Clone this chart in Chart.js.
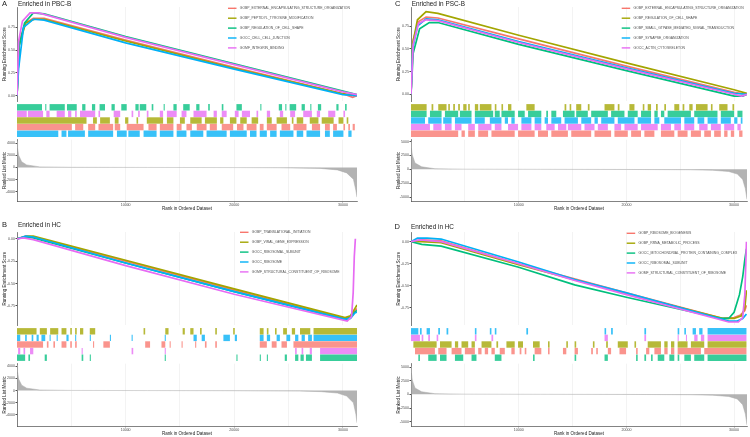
<!DOCTYPE html>
<html>
<head>
<meta charset="utf-8">
<script src="https://cdn.jsdelivr.net/npm/chart.js@4.4.1/dist/chart.umd.min.js"></script>
<style>
body{margin:0;background:#fff;width:750px;height:437px;overflow:hidden;position:relative}
canvas{position:absolute}
</style>
</head>
<body>
<script>
// ggplot hue colours, one per gene set (legend order)
var setColors = ['#F8766D','#A3A500','#00BF7D','#00B0F6','#E76BF3'];
var hitColors = ['rgba(248,118,109,0.78)','rgba(163,165,0,0.78)','rgba(0,191,125,0.78)','rgba(0,176,246,0.78)','rgba(231,107,243,0.78)'];

// tick positions
var rankGrid = [0,5000,10000,15000,20000,25000,30000];
var rankLabels = [10000,20000,30000];
var esTicksUp = [0,0.25,0.5,0.75];
var esTicksDown = [-0.75,-0.5,-0.25,0];
var metricTicksAB = [-4000,-2000,0,2000,4000];
var metricTicksCD = [-5000,-2500,0,2500,5000];

//================ A : Enriched in PBC-B ================
var namesA = ['GOBP_EXTERNAL_ENCAPSULATING_STRUCTURE_ORGANIZATION','GOBP_PEPTIDYL_TYROSINE_MODIFICATION','GOBP_REGULATION_OF_CELL_SHAPE','GOCC_CELL_CELL_JUNCTION','GOMF_INTEGRIN_BINDING'];
// running enrichment score, [rank, ES]
var esA0 = [[0,0],[200,0.6],[800,0.8],[1500,0.85],[2500,0.85],[10000,0.61],[20000,0.31],[30000,0.02],[30900,-0.02],[31300,0]];
var esA1 = [[0,0],[200,0.55],[800,0.8],[1600,0.84],[2500,0.84],[10000,0.6],[20000,0.3],[30000,0.02],[31300,0]];
var esA2 = [[0,0],[200,0.55],[700,0.8],[1500,0.91],[2500,0.9],[10000,0.65],[20000,0.35],[30000,0.05],[31300,0.01]];
var esA3 = [[0,0],[150,0.3],[600,0.75],[1500,0.84],[2500,0.83],[10000,0.58],[20000,0.29],[30000,0.01],[31300,0]];
var esA4 = [[0,0],[150,0.6],[500,0.82],[1200,0.91],[2000,0.91],[10000,0.64],[20000,0.34],[30000,0.04],[31300,0.01]];
// gene hits, runs of [from, to] rank
var hitsA0 = [[0,5050],[5350,6100],[6550,7200],[7500,8850],[9000,9500],[10100,11650],[12100,12850],[13150,14400],[14700,15150],[15600,16100],[16550,17450],[17750,18400],[18850,19900],[20250,20850],[21150,22050],[22350,22700],[23000,23900],[24350,25150],[25450,26650],[27150,27900],[28350,28800],[29100,29450],[30050,30200],[30500,30650],[30900,31100]];
var hitsA1 = [[0,6400],[7000,7350],[7650,8550],[9000,9350],[9950,10250],[11000,11150],[11950,13450],[13800,14400],[15000,15450],[15950,17000],[17300,18400],[18700,19000],[19600,20200],[20550,21150],[21600,22200],[23000,23450],[23900,24850],[25300,25450],[25750,26350],[26950,27750],[28050,29150],[29600,30050],[30350,30500]];
var hitsA2 = [[0,2300],[2600,2700],[3000,4400],[4600,5500],[6000,6300],[6900,7200],[7600,8100],[8700,9000],[9600,10100],[10900,11200],[11300,11900],[12400,12550],[13500,13600],[14400,14700],[15300,15900],[16500,16800],[17600,17750],[18850,19000],[20200,20700],[22400,22500],[24100,24400],[24700,24800],[25100,25700],[26200,26500],[27000,27100],[27700,28000],[29400,29600],[30200,30350]];
var hitsA3 = [[0,3800],[4100,4550],[4700,6250],[6550,8850],[9200,10100],[10250,11300],[11650,12850],[13150,14400],[14700,15600],[15950,17150],[17450,19300],[19600,21150],[21450,22050],[22350,23000],[23300,23900],[24200,25450],[25750,26350],[26650,27900],[28350,28800],[29100,30050],[30500,30800]];
var hitsA4 = [[0,900],[1000,2400],[2700,3000],[3650,4400],[4700,5000],[5350,5500],[5800,7200],[7500,7650],[8900,9500],[10550,10700],[11150,11300],[11950,12100],[13150,13450],[13800,14700],[15150,15600],[16250,17450],[18100,18400],[18850,19300],[20050,20400],[20700,21450],[22050,22200],[23000,23300],[24200,24500],[25150,25600],[26350,27150],[27600,27900],[28650,29300],[30050,30200]];
var rowsA = [2,4,1,0,3]; // barcode rows, top to bottom
var rankA = [[0,4300],[50,3200],[150,2000],[430,950],[890,420],[2100,100],[5000,30],[12000,5],[20000,-15],[24000,-40],[27900,-150],[29500,-400],[30350,-900],[30970,-1950],[31200,-3800],[31300,-4900]];

//================ B : Enriched in HC ================
var namesB = ['GOBP_TRANSLATIONAL_INITIATION','GOBP_VIRAL_GENE_EXPRESSION','GOCC_RIBOSOMAL_SUBUNIT','GOCC_RIBOSOME','GOMF_STRUCTURAL_CONSTITUENT_OF_RIBOSOME'];
var esB0 = [[0,0],[800,0.03],[1500,0.02],[10000,-0.25],[20000,-0.57],[30200,-0.89],[30700,-0.87],[31100,-0.8],[31300,-0.78]];
var esB1 = [[0,0],[900,0.03],[1500,0.03],[10000,-0.24],[20000,-0.56],[30200,-0.88],[30700,-0.86],[31100,-0.78],[31300,-0.74]];
var esB2 = [[0,0],[800,0.02],[1500,0.01],[10000,-0.27],[20000,-0.59],[30200,-0.9],[30700,-0.88],[31100,-0.82],[31300,-0.8]];
var esB3 = [[0,0],[800,0.03],[1500,0.02],[10000,-0.27],[20000,-0.59],[30200,-0.9],[30700,-0.89],[31100,-0.83],[31300,-0.82]];
var esB4 = [[0,0],[600,0.01],[1500,-0.01],[10000,-0.3],[20000,-0.62],[30400,-0.92],[30800,-0.87],[30950,-0.6],[31050,-0.2],[31150,0]];
var hitsB0 = [[0,2400],[2750,2900],[3350,3500],[4100,4550],[4900,5050],[5350,5500],[7000,7100],[7950,8550],[11800,12250],[13300,13650],[14050,14150],[15150,15250],[16400,16500],[17300,17450],[18250,18400],[22350,23000],[23450,23900],[24350,24850],[25450,31300]];
var hitsB1 = [[0,1800],[2100,2750],[3050,3800],[4100,4550],[4900,5050],[5350,5500],[5800,6100],[6700,7200],[11650,11800],[13650,13950],[15250,15450],[15950,16250],[16850,17000],[18250,18400],[19900,20050],[22350,22700],[23000,23150],[23750,23900],[24500,24850],[25300,25600],[26050,27000],[27300,31300]];
var hitsB2 = [[0,750],[1050,1200],[2550,2750],[5950,6100],[6700,6800],[13600,13700],[20200,20300],[22350,22450],[23000,23100],[24650,24850],[25600,25900],[26100,26400],[26600,27150],[27900,31300]];
var hitsB3 = [[0,300],[750,900],[1350,1500],[1800,2000],[2250,2600],[3000,3100],[3650,3750],[4550,4750],[5350,5450],[6700,6800],[8550,8650],[10550,10650],[13600,13700],[16250,16550],[17000,17300],[19000,19600],[20050,20250],[22350,22700],[23000,23300],[23900,24200],[24800,25150],[25600,25900],[26200,26500],[26800,27150],[27300,31300]];
var hitsB4 = [[100,300],[600,750],[1200,1500],[5950,6050],[10550,10700],[13600,13700],[25600,25750],[26200,26350],[26950,27150],[27900,31300]];
var rowsB = [1,3,0,4,2];
var rankB = [[0,4200],[50,3100],[150,1900],[430,900],[900,400],[2100,100],[5000,30],[12000,5],[20000,-20],[26000,-80],[28000,-170],[29500,-400],[30350,-900],[30970,-2000],[31200,-3900],[31300,-5300]];

//================ C : Enriched in PSC-B ================
var namesC = ['GOBP_EXTERNAL_ENCAPSULATING_STRUCTURE_ORGANIZATION','GOBP_REGULATION_OF_CELL_SHAPE','GOBP_SMALL_GTPASE_MEDIATED_SIGNAL_TRANSDUCTION','GOBP_SYNAPSE_ORGANIZATION','GOCC_ACTIN_CYTOSKELETON'];
var esC0 = [[0,0],[200,0.6],[700,0.8],[1400,0.85],[2500,0.84],[10000,0.61],[20000,0.31],[30000,0.02],[31200,0]];
var esC1 = [[0,0],[150,0.55],[600,0.82],[1400,0.91],[2500,0.89],[10000,0.65],[20000,0.345],[30000,0.05],[31200,0.01]];
var esC2 = [[0,0],[200,0.45],[800,0.72],[1700,0.79],[2500,0.79],[10000,0.55],[20000,0.26],[30000,-0.02],[30800,-0.02],[31200,0]];
var esC3 = [[0,0],[150,0.5],[600,0.75],[1400,0.83],[2500,0.82],[10000,0.58],[20000,0.29],[30000,0.01],[31200,0]];
var esC4 = [[0,0],[200,0.55],[700,0.78],[1400,0.82],[2500,0.81],[10000,0.57],[20000,0.28],[30000,0],[30700,-0.02],[31200,0]];
var hitsC0 = [[0,4380],[4690,5000],[5310,5930],[6240,7160],[7470,9630],[9940,11480],[11790,12720],[13030,14570],[14880,16730],[17040,18580],[18890,20130],[20440,21360],[21670,22600],[23210,24450],[24760,25680],[25990,26920],[27230,27850],[28150,28770],[29080,29390],[29700,30010],[30470,30780]];
var hitsC1 = [[0,1450],[1910,2070],[2530,3300],[3460,3610],[3920,4080],[4380,4540],[4850,5160],[5310,5460],[5930,6240],[6390,7470],[7780,7930],[8400,8550],[9010,9320],[10710,11480],[14260,14420],[14730,14880],[15340,15810],[16420,16580],[17970,18890],[19200,19360],[20280,20750],[21520,21670],[21980,22290],[22750,22910],[23520,23680],[24450,24910],[25220,25380],[25840,26150],[26460,27540],[27850,28000],[28620,29390],[29850,30010]];
var hitsC2 = [[0,1450],[1760,2840],[3150,4380],[4540,5620],[5930,7630],[7780,8240],[8400,9630],[9940,10560],[10870,12100],[12560,12720],[13030,13490],[14110,15190],[15340,16420],[16730,18280],[18580,19820],[20130,21050],[21360,22290],[22600,22910],[23210,23520],[23830,25990],[26300,28460],[28770,30010],[30310,30780]];
var hitsC3 = [[0,1300],[1600,2840],[2990,3770],[4080,5620],[5930,6850],[7320,8400],[8710,9010],[9320,9630],[10250,11180],[11480,12100],[12410,12720],[13030,13950],[14260,15500],[15810,16730],[17040,17350],[17660,18890],[19200,20750],[21050,22290],[22600,23060],[23520,25070],[25380,26300],[26610,27230],[27540,28460],[28770,29700],[30010,30310],[30620,30780]];
var hitsC4 = [[0,1760],[2070,2840],[3150,3770],[4080,4690],[5310,5930],[6240,7470],[7780,8400],[9010,9940],[10250,11180],[11480,12100],[12560,13340],[13650,14420],[14570,15810],[16110,17040],[17350,18280],[18890,19510],[19820,21050],[21360,22910],[23210,24140],[24450,25070],[25380,26300],[26760,27540],[27850,28770],[29080,30010],[30310,30620]];
var rowsC = [1,2,3,4,0];
var rankC = [[0,5000],[40,3800],[120,2580],[370,1150],[990,460],[2220,115],[5000,30],[12000,5],[20000,-15],[26000,-70],[28000,-160],[29500,-380],[30300,-850],[30800,-1800],[31050,-3500],[31200,-5400]];

//================ D : Enriched in HC ================
var namesD = ['GOBP_RIBOSOME_BIOGENESIS','GOBP_RRNA_METABOLIC_PROCESS','GOCC_MITOCHONDRIAL_PROTEIN_CONTAINING_COMPLEX','GOCC_RIBOSOMAL_SUBUNIT','GOMF_STRUCTURAL_CONSTITUENT_OF_RIBOSOME'];
var esD0 = [[0,0],[1000,0.02],[2800,0.01],[10000,-0.25],[20000,-0.58],[29000,-0.87],[30000,-0.86],[30600,-0.83],[31000,-0.78],[31150,-0.72]];
var esD1 = [[0,0],[1000,0],[2800,-0.01],[10000,-0.26],[20000,-0.59],[29000,-0.87],[30000,-0.87],[30700,-0.84],[31000,-0.75],[31150,-0.55]];
var esD2 = [[0,0],[1000,-0.03],[2800,-0.05],[10000,-0.29],[15200,-0.49],[20000,-0.63],[28800,-0.87],[29500,-0.87],[30000,-0.8],[30500,-0.6],[30800,-0.4],[31000,-0.2],[31150,-0.08]];
var esD3 = [[0,0],[600,0.04],[1500,0.04],[2800,0.03],[10000,-0.23],[15200,-0.43],[20000,-0.58],[29500,-0.9],[30300,-0.9],[30800,-0.87],[31150,-0.82]];
var esD4 = [[0,0],[800,0.02],[2800,0],[10000,-0.25],[15200,-0.44],[20000,-0.6],[29500,-0.91],[30400,-0.91],[30800,-0.86],[31000,-0.6],[31100,-0.2],[31150,0]];
var hitsD0 = [[370,2220],[2530,3300],[3770,4690],[5000,5930],[6240,6550],[6850,7160],[7470,7780],[8240,8710],[9320,9630],[10090,10250],[10560,10710],[11480,12100],[12720,12870],[14110,14420],[15190,15500],[16730,16890],[17200,17350],[18280,18580],[19360,19970],[20900,21050],[21830,22130],[22600,23210],[23520,23830],[24140,24450],[24760,26920],[27230,31150]];
var hitsD1 = [[220,2380],[2690,3770],[4080,4380],[4690,5310],[5620,5930],[6550,7470],[7930,8090],[8860,9630],[9940,10400],[11330,11950],[12720,12870],[14420,14570],[15190,15340],[16890,17040],[18120,18280],[19200,20130],[20750,20900],[21980,23210],[23520,23830],[24140,24450],[24760,25680],[25990,27230],[27540,31150]];
var hitsD2 = [[680,830],[1600,2380],[2690,3300],[4080,4850],[5620,6080],[7780,8400],[11330,11480],[15190,15340],[17970,18280],[20900,21050],[21670,21830],[22290,22440],[22910,23520],[23990,24450],[24760,24910],[25380,25990],[26300,27230],[27540,31150]];
var hitsD3 = [[0,680],[830,990],[1450,1760],[2530,2690],[3300,3460],[5930,6080],[7320,7470],[7780,7930],[10710,10870],[17970,18120],[18580,18740],[21670,21830],[24760,24910],[25380,25530],[26150,26460],[26760,27070],[27540,31150]];
var hitsD4 = [[0,830],[990,1140],[1600,1760],[2380,2530],[5930,6080],[7470,7630],[17970,18280],[21670,21830],[24760,24860],[25530,25630],[26300,26610],[26920,27230],[27540,31150]];
var rowsD = [3,4,1,0,2];
var rankD = [[0,5100],[40,3900],[120,2600],[370,1170],[990,470],[2220,120],[5000,30],[12000,5],[20000,-15],[26000,-70],[28000,-160],[29500,-380],[30300,-850],[30800,-1900],[31050,-3600],[31200,-5600]];

Chart.defaults.font.family = '"Liberation Sans", Arial, sans-serif';
Chart.defaults.color = '#4d4d4d';

function addCanvas(left, top, w, h){
    var c = document.createElement('canvas');
    c.width = w; c.height = h;
    c.style.left = left+'px'; c.style.top = top+'px';
    c.style.width = w+'px'; c.style.height = h+'px';
    document.body.appendChild(c);
    return c;
}
function toXY(pts){
    return pts.map(function(a){ return {x:a[0], y:a[1]}; });
}
//fixed tick list (stepSize gets rounded away when min/max are set)
function fixTicks(list){
    return function(s){ s.ticks = list.map(function(v){ return {value:v}; }); };
}
var gridCol = '#ebebeb', axisCol = '#4d4d4d';

//letter, title and legend drawn over the ES panel
function decoPlugin(p){
    return {
        id:'deco'+p.letter,
        afterDraw:function(chart){
            var ctx = chart.ctx;
            ctx.save();
            ctx.textBaseline = 'middle';
            ctx.textAlign = 'left';
            ctx.fillStyle = '#1a1a1a';
            ctx.font = '7.5px "Liberation Sans"';
            ctx.fillText(p.letter, p.letterX, p.titleY);
            ctx.font = '6.4px "Liberation Sans"';
            ctx.fillText(p.title, p.titleX, p.titleY);
            p.names.forEach(function(n,i){
                var y = p.legY + i*9.9;
                ctx.strokeStyle = setColors[i];
                ctx.lineWidth = 1.4;
                ctx.beginPath(); ctx.moveTo(p.legX, y); ctx.lineTo(p.legX+8.5, y); ctx.stroke();
                ctx.fillStyle = '#4d4d4d';
                ctx.font = '3.4px "Liberation Sans"';
                ctx.fillText(n, p.legX+11.8, y);
            });
            ctx.restore();
        }
    };
}

function buildPanel(p){
    var base = {responsive:false, animation:false, events:[], devicePixelRatio:1};
    //1. running enrichment score
    var c1 = addCanvas(p.left, p.esTop, p.width, p.esH);
    new Chart(c1, {
        type:'line',
        data:{datasets: p.es.map(function(pts,i){
            return {label:p.names[i], data:toXY(pts), borderColor:setColors[i], borderWidth:1.7,
                    pointRadius:0, tension:0, fill:false, order:4-i};
        })},
        options:Object.assign({}, base, {
            layout:{padding:{top:p.esPadTop, right:p.padR, left:0, bottom:0}},
            plugins:{legend:{display:false}, tooltip:{enabled:false}},
            scales:{
                x:{type:'linear', min:0, max:p.xMax, ticks:{display:false},
                   afterBuildTicks:fixTicks(rankGrid),
                   grid:{color:gridCol, lineWidth:0.6, drawTicks:false}, border:{display:false},
                   afterFit:function(s){ s.height = 0; }},
                y:{min:p.esMin, max:p.esMax,
                   afterBuildTicks:fixTicks(p.esTicks),
                   ticks:{font:{size:3.6}, padding:0.5,
                          callback:function(v){ return v.toFixed(2); }},
                   grid:{drawOnChartArea:false, tickLength:1.5, tickColor:axisCol},
                   border:{color:axisCol, width:0.7},
                   title:{display:true, text:'Running Enrichment Score', font:{size:4.5}, color:'#222', padding:{top:2.3, bottom:0}},
                   afterFit:function(s){ s.width = 17; }}
            }
        }),
        plugins:[decoPlugin(p)]
    });
    //2. gene hit barcode
    var c2 = addCanvas(p.left, p.hitTop, p.width, p.hitH);
    new Chart(c2, {
        type:'bar',
        data:{labels:p.rows.map(function(i){ return p.names[i]; }),
              datasets:p.hits.map(function(runs,i){
                  return {data:runs.map(function(r){ return {x:r, y:p.names[i]}; }),
                          backgroundColor:hitColors[i], borderWidth:0, grouped:false,
                          barPercentage:0.97, categoryPercentage:1};
              })},
        options:Object.assign({}, base, {
            indexAxis:'y',
            layout:{padding:{left:17, right:p.padR, top:0, bottom:0}},
            plugins:{legend:{display:false}, tooltip:{enabled:false}},
            scales:{
                x:{type:'linear', min:0, max:p.xMax, display:false},
                y:{type:'category', display:false}
            }
        })
    });
    //3. ranked list metric
    var c3 = addCanvas(p.left, p.rankTop, p.width, p.rankH);
    new Chart(c3, {
        type:'line',
        data:{datasets:[{data:toXY(p.rank), borderColor:'#a8a8a8', borderWidth:0.5,
                         backgroundColor:'rgba(160,160,160,0.8)', fill:'origin', pointRadius:0, tension:0}]},
        options:Object.assign({}, base, {
            layout:{padding:{top:0, right:p.padR, left:0, bottom:0}},
            plugins:{legend:{display:false}, tooltip:{enabled:false}},
            scales:{
                x:{type:'linear', min:0, max:p.xMax,
                   afterBuildTicks:fixTicks(rankGrid),
                   ticks:{autoSkip:false, maxRotation:0, font:{size:3.6}, padding:0.5,
                          callback:function(v){ return rankLabels.indexOf(v) >= 0 ? String(v) : ''; }},
                   grid:{color:gridCol, lineWidth:0.6, tickLength:1.5,
                         tickColor:function(ctx){ return (ctx.tick && rankLabels.indexOf(ctx.tick.value) >= 0) ? axisCol : 'rgba(0,0,0,0)'; }},
                   border:{color:axisCol, width:0.7},
                   title:{display:true, text:'Rank in Ordered Dataset', font:{size:4.5}, color:'#222', padding:{top:0, bottom:p.xTitlePad}},
                   afterFit:function(s){ s.height = p.rankAxisH; }},
                y:{min:p.rankMin, max:p.rankMax,
                   afterBuildTicks:fixTicks(p.metricTicks),
                   ticks:{font:{size:3.6}, padding:0.5,
                          callback:function(v){ return String(v); }},
                   grid:{drawOnChartArea:false, tickLength:1.5, tickColor:axisCol},
                   border:{color:axisCol, width:0.7},
                   title:{display:true, text:'Ranked List Metric', font:{size:4.5}, color:'#222', padding:{top:2.3, bottom:0}},
                   afterFit:function(s){ s.width = 17; }}
            }
        })
    });
}

buildPanel({left:0, width:375, padR:18, xMax:31300,
    esTop:0, esH:104, esPadTop:7, esMin:-0.064, esMax:0.975, esTicks:esTicksUp,
    hitTop:104, hitH:33, rankTop:137, rankH:78, rankAxisH:14, xTitlePad:3.3,
    rankMin:-5530, rankMax:4590, metricTicks:metricTicksAB,
    letter:'A', title:'Enriched in PBC-B', letterX:2, titleX:18, titleY:4, legX:228, legY:8.3,
    names:namesA, es:[esA0,esA1,esA2,esA3,esA4], hits:[hitsA0,hitsA1,hitsA2,hitsA3,hitsA4], rows:rowsA, rank:rankA});

buildPanel({left:0, width:375, padR:18, xMax:31300,
    esTop:216, esH:112, esPadTop:16, esMin:-0.967, esMax:0.076, esTicks:esTicksDown,
    hitTop:328, hitH:33, rankTop:361, rankH:76, rankAxisH:11, xTitlePad:0.3,
    rankMin:-5826, rankMax:4436, metricTicks:metricTicksAB,
    letter:'B', title:'Enriched in HC', letterX:2, titleX:18, titleY:9, legX:240, legY:16.3,
    names:namesB, es:[esB0,esB1,esB2,esB3,esB4], hits:[hitsB0,hitsB1,hitsB2,hitsB3,hitsB4], rows:rowsB, rank:rankB});

buildPanel({left:394, width:356, padR:3, xMax:31200,
    esTop:0, esH:104, esPadTop:7, esMin:-0.078, esMax:0.961, esTicks:esTicksUp,
    hitTop:104, hitH:33, rankTop:137, rankH:78, rankAxisH:14, xTitlePad:3.3,
    rankMin:-5690, rankMax:5345, metricTicks:metricTicksCD,
    letter:'C', title:'Enriched in PSC-B', letterX:1, titleX:17.7, titleY:4, legX:227.7, legY:8.3,
    names:namesC, es:[esC0,esC1,esC2,esC3,esC4], hits:[hitsC0,hitsC1,hitsC2,hitsC3,hitsC4], rows:rowsC, rank:rankC});

buildPanel({left:394, width:356, padR:3, xMax:31200,
    esTop:216, esH:112, esPadTop:16, esMin:-0.948, esMax:0.11, esTicks:esTicksDown,
    hitTop:328, hitH:33, rankTop:361, rankH:76, rankAxisH:11, xTitlePad:0.3,
    rankMin:-5790, rankMax:5614, metricTicks:metricTicksCD,
    letter:'D', title:'Enriched in HC', letterX:0.5, titleX:17, titleY:11, legX:232.7, legY:17.3,
    names:namesD, es:[esD0,esD1,esD2,esD3,esD4], hits:[hitsD0,hitsD1,hitsD2,hitsD3,hitsD4], rows:rowsD, rank:rankD});
</script>
</body>
</html>
